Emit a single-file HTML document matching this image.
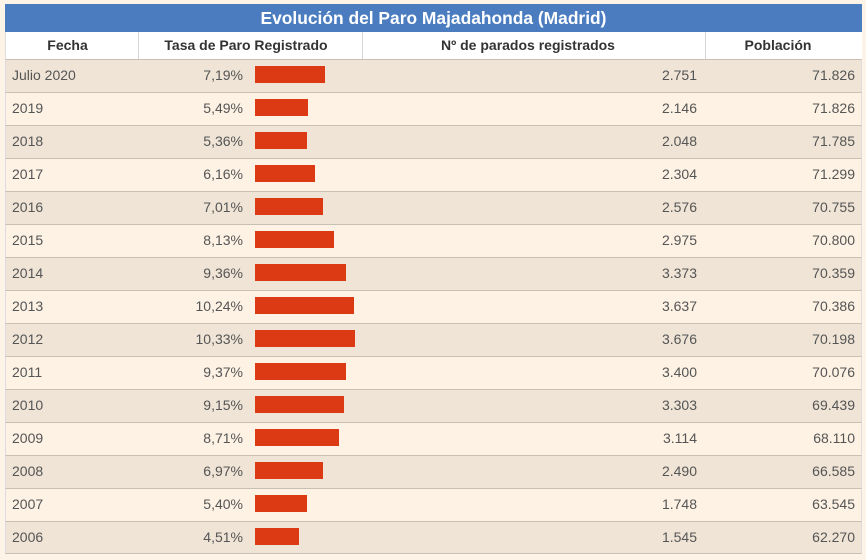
<!DOCTYPE html>
<html>
<head>
<meta charset="utf-8">
<style>
  html,body{margin:0;padding:0;}
  body{width:866px;height:560px;background:#fdf3e7;position:relative;overflow:hidden;font-family:"Liberation Sans",Arial,sans-serif;}
  .title{position:absolute;left:5px;top:4px;width:857px;height:28px;background:#4a7cbf;color:#fff;font-weight:bold;font-size:17.4px;line-height:28px;text-align:center;}
  .head{position:absolute;left:5px;top:32px;width:857px;height:27px;background:#fff;border-left:1px solid #ddd;box-sizing:border-box;}
  .hc{position:absolute;top:32px;height:27px;line-height:27px;font-weight:bold;font-size:14px;color:#333;text-align:center;}
  .vd{position:absolute;top:32px;width:1px;height:27px;background:#d6d6d6;}
  .row{position:absolute;left:5px;width:857px;height:33px;box-sizing:border-box;border-top:1px solid #c9bfb3;border-left:1px solid #ddd;border-right:1px solid #ddd;}
  .d{background:#efe4d6;}
  .l{background:#fdf2e4;}
  .t{position:absolute;font-size:14px;color:#555;line-height:33px;height:33px;white-space:nowrap;}
  .bar{position:absolute;height:17px;background:#db3a15;left:255px;}
</style>
</head>
<body>
<div class="title">Evolución del Paro Majadahonda (Madrid)</div>
<div class="head"></div>
<div class="hc" style="left:27px;width:81px;">Fecha</div>
<div class="hc" style="left:146px;width:200px;">Tasa de Paro Registrado</div>
<div class="hc" style="left:408px;width:240px;">Nº de parados registrados</div>
<div class="hc" style="left:728px;width:100px;">Población</div>
<div class="vd" style="left:138px;"></div>
<div class="vd" style="left:362px;"></div>
<div class="vd" style="left:705px;"></div>

<div id="rows"></div>

<div class="row d" style="top:59px;"></div>
<div class="t" style="top:59px;left:12px;">Julio 2020</div>
<div class="t" style="top:59px;right:623px;">7,19%</div>
<div class="bar" style="top:66px;width:70px;"></div>
<div class="t" style="top:59px;right:169px;">2.751</div>
<div class="t" style="top:59px;right:11px;">71.826</div>

<div class="row l" style="top:92px;"></div>
<div class="t" style="top:92px;left:12px;">2019</div>
<div class="t" style="top:92px;right:623px;">5,49%</div>
<div class="bar" style="top:99px;width:53px;"></div>
<div class="t" style="top:92px;right:169px;">2.146</div>
<div class="t" style="top:92px;right:11px;">71.826</div>

<div class="row d" style="top:125px;"></div>
<div class="t" style="top:125px;left:12px;">2018</div>
<div class="t" style="top:125px;right:623px;">5,36%</div>
<div class="bar" style="top:132px;width:52px;"></div>
<div class="t" style="top:125px;right:169px;">2.048</div>
<div class="t" style="top:125px;right:11px;">71.785</div>

<div class="row l" style="top:158px;"></div>
<div class="t" style="top:158px;left:12px;">2017</div>
<div class="t" style="top:158px;right:623px;">6,16%</div>
<div class="bar" style="top:165px;width:60px;"></div>
<div class="t" style="top:158px;right:169px;">2.304</div>
<div class="t" style="top:158px;right:11px;">71.299</div>

<div class="row d" style="top:191px;"></div>
<div class="t" style="top:191px;left:12px;">2016</div>
<div class="t" style="top:191px;right:623px;">7,01%</div>
<div class="bar" style="top:198px;width:68px;"></div>
<div class="t" style="top:191px;right:169px;">2.576</div>
<div class="t" style="top:191px;right:11px;">70.755</div>

<div class="row l" style="top:224px;"></div>
<div class="t" style="top:224px;left:12px;">2015</div>
<div class="t" style="top:224px;right:623px;">8,13%</div>
<div class="bar" style="top:231px;width:79px;"></div>
<div class="t" style="top:224px;right:169px;">2.975</div>
<div class="t" style="top:224px;right:11px;">70.800</div>

<div class="row d" style="top:257px;"></div>
<div class="t" style="top:257px;left:12px;">2014</div>
<div class="t" style="top:257px;right:623px;">9,36%</div>
<div class="bar" style="top:264px;width:91px;"></div>
<div class="t" style="top:257px;right:169px;">3.373</div>
<div class="t" style="top:257px;right:11px;">70.359</div>

<div class="row l" style="top:290px;"></div>
<div class="t" style="top:290px;left:12px;">2013</div>
<div class="t" style="top:290px;right:623px;">10,24%</div>
<div class="bar" style="top:297px;width:99px;"></div>
<div class="t" style="top:290px;right:169px;">3.637</div>
<div class="t" style="top:290px;right:11px;">70.386</div>

<div class="row d" style="top:323px;"></div>
<div class="t" style="top:323px;left:12px;">2012</div>
<div class="t" style="top:323px;right:623px;">10,33%</div>
<div class="bar" style="top:330px;width:100px;"></div>
<div class="t" style="top:323px;right:169px;">3.676</div>
<div class="t" style="top:323px;right:11px;">70.198</div>

<div class="row l" style="top:356px;"></div>
<div class="t" style="top:356px;left:12px;">2011</div>
<div class="t" style="top:356px;right:623px;">9,37%</div>
<div class="bar" style="top:363px;width:91px;"></div>
<div class="t" style="top:356px;right:169px;">3.400</div>
<div class="t" style="top:356px;right:11px;">70.076</div>

<div class="row d" style="top:389px;"></div>
<div class="t" style="top:389px;left:12px;">2010</div>
<div class="t" style="top:389px;right:623px;">9,15%</div>
<div class="bar" style="top:396px;width:89px;"></div>
<div class="t" style="top:389px;right:169px;">3.303</div>
<div class="t" style="top:389px;right:11px;">69.439</div>

<div class="row l" style="top:422px;"></div>
<div class="t" style="top:422px;left:12px;">2009</div>
<div class="t" style="top:422px;right:623px;">8,71%</div>
<div class="bar" style="top:429px;width:84px;"></div>
<div class="t" style="top:422px;right:169px;">3.114</div>
<div class="t" style="top:422px;right:11px;">68.110</div>

<div class="row d" style="top:455px;"></div>
<div class="t" style="top:455px;left:12px;">2008</div>
<div class="t" style="top:455px;right:623px;">6,97%</div>
<div class="bar" style="top:462px;width:68px;"></div>
<div class="t" style="top:455px;right:169px;">2.490</div>
<div class="t" style="top:455px;right:11px;">66.585</div>

<div class="row l" style="top:488px;"></div>
<div class="t" style="top:488px;left:12px;">2007</div>
<div class="t" style="top:488px;right:623px;">5,40%</div>
<div class="bar" style="top:495px;width:52px;"></div>
<div class="t" style="top:488px;right:169px;">1.748</div>
<div class="t" style="top:488px;right:11px;">63.545</div>

<div class="row d" style="top:521px;height:33px;border-bottom:1px solid #c9bfb3;"></div>
<div class="t" style="top:521px;left:12px;">2006</div>
<div class="t" style="top:521px;right:623px;">4,51%</div>
<div class="bar" style="top:528px;width:44px;"></div>
<div class="t" style="top:521px;right:169px;">1.545</div>
<div class="t" style="top:521px;right:11px;">62.270</div>
</body>
</html>
